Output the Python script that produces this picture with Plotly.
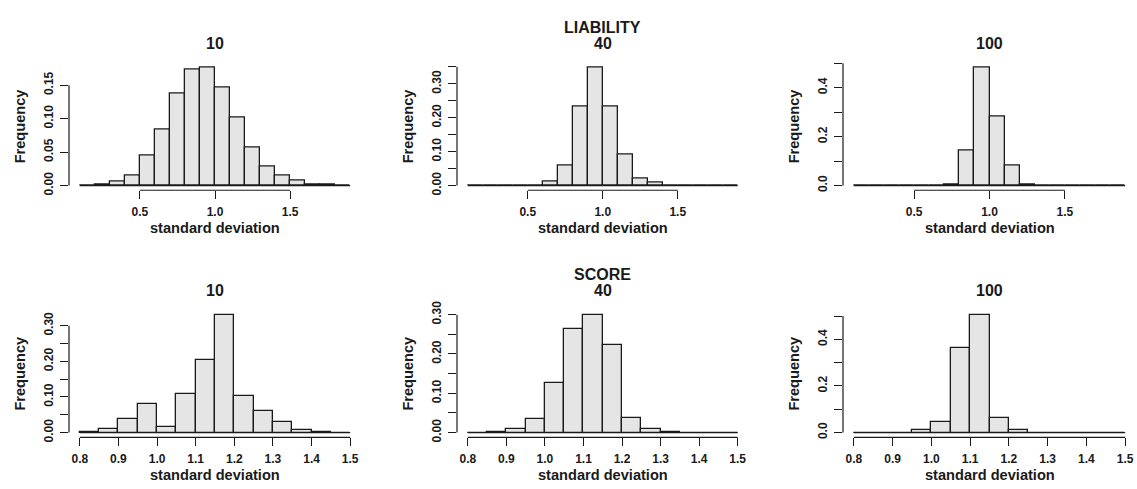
import plotly.graph_objects as go

W, H = 1137, 489

# ---------------- data ----------------
top_breaks = [0.1, 0.2, 0.3, 0.4, 0.5, 0.6, 0.7, 0.8, 0.9, 1.0,
              1.1, 1.2, 1.3, 1.4, 1.5, 1.6, 1.7, 1.8, 1.9]
bottom_breaks = [0.80, 0.85, 0.90, 0.95, 1.00, 1.05, 1.10, 1.15,
                 1.20, 1.25, 1.30, 1.35, 1.40, 1.45, 1.50]

liability_10 = [0, 0.001, 0.006, 0.0155, 0.0456, 0.084, 0.137, 0.174, 0.177,
                0.146, 0.102, 0.057, 0.029, 0.015, 0.007, 0.002, 0.002, 0]
liability_40 = [0, 0, 0, 0, 0, 0.011, 0.060, 0.232, 0.349,
                0.232, 0.091, 0.020, 0.009, 0, 0, 0, 0, 0]
liability_100 = [0, 0, 0, 0, 0, 0, 0.003, 0.145, 0.484,
                 0.282, 0.084, 0.005, 0, 0, 0, 0, 0, 0]

score_10 = [0.003, 0.010, 0.037, 0.080, 0.017, 0.108, 0.204,
            0.331, 0.103, 0.060, 0.031, 0.008, 0.002, 0]
score_40 = [0, 0.002, 0.008, 0.035, 0.127, 0.263, 0.300,
            0.222, 0.038, 0.008, 0.001, 0, 0, 0]
score_100 = [0, 0, 0, 0.010, 0.044, 0.365, 0.506,
             0.063, 0.010, 0, 0, 0, 0, 0]

top_xticks = [0.5, 1.0, 1.5]
top_xlabels = ["0.5", "1.0", "1.5"]
bottom_xticks = [0.8, 0.9, 1.0, 1.1, 1.2, 1.3, 1.4, 1.5]
bottom_xlabels = ["0.8", "0.9", "1.0", "1.1", "1.2", "1.3", "1.4", "1.5"]

yt_015 = [0, 0.05, 0.10, 0.15]
yl_015 = ["0.00", "0.05", "0.10", "0.15"]
yt_035 = [0, 0.05, 0.10, 0.15, 0.20, 0.25, 0.30, 0.35]
yl_035 = ["0.00", "", "0.10", "", "0.20", "", "0.30", ""]
yt_030 = [0, 0.05, 0.10, 0.15, 0.20, 0.25, 0.30]
yl_030 = ["0.00", "", "0.10", "", "0.20", "", "0.30"]
yt_05 = [0, 0.1, 0.2, 0.3, 0.4, 0.5]
yl_05 = ["0.0", "", "0.2", "", "0.4", ""]

titles = [["10"], ["LIABILITY", "40"], ["100"],
          ["10"], ["SCORE", "40"], ["100"]]

# ---------------- layout (pixel geometry) ----------------
cols = [(69, 361), (457, 748.5), (843, 1136)]
rows = [(55, 186.6), (309.8, 440.9)]

panels = [
    (liability_10, top_breaks, top_xticks, top_xlabels, yt_015, yl_015),
    (liability_40, top_breaks, top_xticks, top_xlabels, yt_035, yl_035),
    (liability_100, top_breaks, top_xticks, top_xlabels, yt_05, yl_05),
    (score_10, bottom_breaks, bottom_xticks, bottom_xlabels, yt_030, yl_030),
    (score_40, bottom_breaks, bottom_xticks, bottom_xlabels, yt_030, yl_030),
    (score_100, bottom_breaks, bottom_xticks, bottom_xlabels, yt_05, yl_05),
]

FONT = "Liberation Sans, Arial, Helvetica, sans-serif"
INK = "#1a1a1a"
FILL = "#e5e5e5"

fig = go.Figure()
annotations = []
shapes = []
layout_axes = {}

for k, (vals, brks, xt, xl, yt, yl) in enumerate(panels):
    i = k + 1
    r, c = divmod(k, 3)
    x0p, x1p = cols[c]
    y0p, y1p = rows[r]
    xs = "" if i == 1 else str(i)

    mids = [(a + b) / 2 for a, b in zip(brks[:-1], brks[1:])]
    widths = [b - a for a, b in zip(brks[:-1], brks[1:])]

    fig.add_trace(go.Scatter(
        x=[brks[0], brks[-1]], y=[0, 0], mode="lines",
        line=dict(color=INK, width=1.3), showlegend=False, hoverinfo="skip",
        xaxis="x" + xs, yaxis="y" + xs))
    fig.add_trace(go.Bar(
        x=mids, y=vals, width=widths,
        marker=dict(color=FILL, line=dict(color=INK, width=1.3)),
        showlegend=False, xaxis="x" + xs, yaxis="y" + xs))

    span = brks[-1] - brks[0]
    ymax = max(vals)
    tickfont = dict(family=FONT, size=12, color=INK, weight="bold")
    layout_axes["xaxis" + xs] = dict(
        domain=[x0p / W, x1p / W], anchor="y" + xs,
        range=[brks[0] - 0.04 * span, brks[-1] + 0.04 * span],
        tickvals=xt, ticktext=xl, ticks="outside", ticklen=8,
        tickcolor=INK, tickwidth=1.2, showgrid=False, zeroline=False,
        showline=False, tickfont=tickfont, ticklabelstandoff=2, fixedrange=True)
    layout_axes["yaxis" + xs] = dict(
        domain=[1 - y1p / H, 1 - y0p / H], anchor="x" + xs,
        range=[-0.04 * ymax, 1.04 * ymax],
        tickvals=yt, ticktext=yl, ticks="outside", ticklen=8,
        tickcolor=INK, tickwidth=1.2, showgrid=False, zeroline=False,
        showline=False, tickangle=-90, tickfont=tickfont,
        ticklabelstandoff=2, fixedrange=True)

    # R-style axis lines spanning first..last tick
    shapes.append(dict(type="line", xref="x" + xs, yref="y" + xs + " domain",
                       x0=xt[0], x1=xt[-1], y0=0, y1=0,
                       line=dict(color=INK, width=1.2)))
    shapes.append(dict(type="line", xref="x" + xs + " domain", yref="y" + xs,
                       x0=0, x1=0, y0=yt[0], y1=yt[-1],
                       line=dict(color=INK, width=1.2)))

    cx = (x0p + x1p) / 2
    # titles
    tl = titles[k]
    base_y = 36 if r == 0 else 290
    for j, line in enumerate(reversed(tl)):
        annotations.append(dict(
            text=line, xref="paper", yref="paper", x=cx / W,
            y=1 - (base_y - 16.5 * j) / H, xanchor="center", yanchor="middle",
            showarrow=False, font=dict(family=FONT, size=16, color=INK, weight="bold")))
    # x label
    annotations.append(dict(
        text="standard deviation", xref="paper", yref="paper", x=cx / W,
        y=1 - (y1p + 38.5) / H, xanchor="center", yanchor="middle",
        showarrow=False, font=dict(family=FONT, size=14.6, color=INK, weight="bold")))
    # y label
    annotations.append(dict(
        text="Frequency", xref="paper", yref="paper", x=(x0p - 49) / W,
        y=1 - ((y0p + y1p) / 2) / H, xanchor="center", yanchor="middle",
        textangle=-90, showarrow=False,
        font=dict(family=FONT, size=14.6, color=INK, weight="bold")))

fig.update_layout(
    width=W, height=H, autosize=False,
    margin=dict(l=0, r=0, t=0, b=0),
    paper_bgcolor="white", plot_bgcolor="white",
    bargap=0, annotations=annotations, shapes=shapes,
    **layout_axes)

fig.write_html("out.html",
               config={"displayModeBar": False},
               post_script="document.body.style.margin='0';"
                           "document.body.style.overflow='hidden';")
